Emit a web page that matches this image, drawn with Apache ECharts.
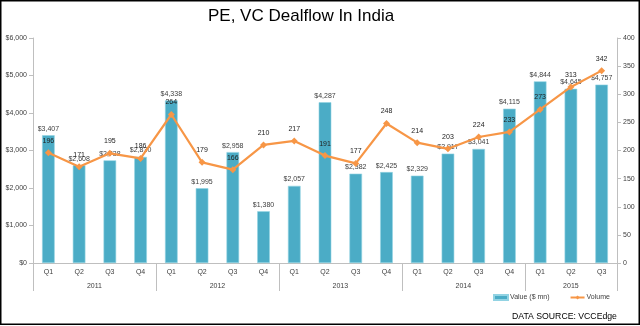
<!DOCTYPE html>
<html>
<head>
<meta charset="utf-8">
<script src="https://cdn.jsdelivr.net/npm/echarts@6/dist/echarts.min.js"></script>
<style>
html,body{margin:0;padding:0;background:#fff;}
#chart{width:640px;height:326px;}
</style>
</head>
<body>
<div id="chart"></div>
<script>
var quarters = ['Q1','Q2','Q3','Q4','Q1','Q2','Q3','Q4','Q1','Q2','Q3','Q4','Q1','Q2','Q3','Q4','Q1','Q2','Q3'];
var years = ['2011','2012','2013','2014','2015'];
var quartersPerYear = [4,4,4,4,3];
var dealValue = [3407,2608,2738,2830,4338,1995,2958,1380,2057,4287,2382,2425,2329,2917,3041,4115,4844,4645,4757];
var dealVolume = [196,171,195,186,264,179,166,210,217,191,177,248,214,203,224,233,273,313,342];
var leftTicks = [0,1000,2000,3000,4000,5000,6000];
var rightTicks = [0,50,100,150,200,250,300,350,400];

// build a half-step category axis for year grouping
var n = quarters.length;
var halfSteps = [];
for (var i = 0; i <= 2 * n; i++) halfSteps.push(String(i));
var yearLabelAt = {};
var boundaryAt = {0: true};
var acc = 0;
for (var y = 0; y < years.length; y++) {
  yearLabelAt[2 * acc + quartersPerYear[y]] = years[y];
  acc += quartersPerYear[y];
  boundaryAt[2 * acc] = true;
}

var FONT = 'Liberation Sans';
var axisGray = '#bfbfbf';
var labelColor = '#404040';

var chart = echarts.init(document.getElementById('chart'), null, {renderer: 'canvas'});
chart.setOption({
  animation: false,
  backgroundColor: '#fff',
  title: [
    {text: 'PE, VC Dealflow In India', left: 203, top: 3,
     textStyle: {fontFamily: FONT, fontSize: 17, fontWeight: 'normal', color: '#000'}},
    {text: 'DATA SOURCE: VCCEdge', left: 507, top: 307,
     textStyle: {fontFamily: FONT, fontSize: 8.7, fontWeight: 'normal', color: '#000'}}
  ],
  graphic: [{
    type: 'rect', silent: true, z: 100,
    shape: {x: 0.75, y: 0.75, width: 638.5, height: 323.5},
    style: {fill: 'none', stroke: '#000', lineWidth: 1.5}
  }],
  legend: {
    left: 493, top: 294, padding: 0,
    itemGap: 20,
    itemWidth: 14, itemHeight: 5,
    textStyle: {fontFamily: FONT, fontSize: 7, color: labelColor, padding: [0, 0, 0, -3]},
    data: [
      {name: 'Value ($ mn)', icon: 'rect'},
      {name: 'Volume'}
    ]
  },
  grid: {left: 33, right: 23, top: 38, bottom: 63, containLabel: false},
  xAxis: [
    {
      type: 'category', data: quarters, position: 'bottom',
      axisLine: {lineStyle: {color: axisGray}},
      axisTick: {length: 14, lineStyle: {color: axisGray}},
      axisLabel: {interval: 0, margin: 6, fontFamily: FONT, fontSize: 7, color: labelColor}
    },
    {
      type: 'category', data: halfSteps, position: 'bottom', boundaryGap: false,
      axisLine: {show: false},
      axisTick: {length: 28, interval: function (idx) { return !!boundaryAt[idx]; }, lineStyle: {color: axisGray}},
      axisLabel: {interval: 0, margin: 20, fontFamily: FONT, fontSize: 7, color: labelColor,
        formatter: function (v, idx) { return yearLabelAt[idx] || ''; }},
      splitLine: {show: false}
    }
  ],
  yAxis: [
    {
      type: 'value', min: leftTicks[0], max: leftTicks[leftTicks.length - 1], interval: 1000,
      position: 'left',
      axisLine: {show: true, lineStyle: {color: axisGray}},
      axisTick: {show: true, length: 4, lineStyle: {color: axisGray}},
      splitLine: {show: false},
      axisLabel: {margin: 6, fontFamily: FONT, fontSize: 7, color: labelColor,
        formatter: function (v) { return '$' + v.toLocaleString('en-US'); }}
    },
    {
      type: 'value', min: rightTicks[0], max: rightTicks[rightTicks.length - 1], interval: 50,
      position: 'right',
      axisLine: {show: true, lineStyle: {color: axisGray}},
      axisTick: {show: true, length: 4, lineStyle: {color: axisGray}},
      splitLine: {show: false},
      axisLabel: {margin: 6, fontFamily: FONT, fontSize: 7, color: labelColor}
    }
  ],
  series: [
    {
      name: 'Value ($ mn)', type: 'bar', xAxisIndex: 0, yAxisIndex: 0,
      data: dealValue, barWidth: '41%',
      itemStyle: {color: '#4bacc6', borderColor: '#92d3e3', borderWidth: 0.6},
      label: {show: true, position: 'top', distance: 3, fontFamily: FONT, fontSize: 7, color: labelColor,
        formatter: function (p) { return '$' + p.value.toLocaleString('en-US'); }}
    },
    {
      name: 'Volume', type: 'line', xAxisIndex: 0, yAxisIndex: 1,
      data: dealVolume,
      symbol: 'diamond', symbolSize: 7,
      lineStyle: {color: '#f79646', width: 2.2},
      itemStyle: {color: '#f79646'},
      label: {show: true, position: 'top', distance: 5, fontFamily: FONT, fontSize: 7, color: '#222'},
      z: 5
    }
  ]
});
</script>
</body>
</html>
